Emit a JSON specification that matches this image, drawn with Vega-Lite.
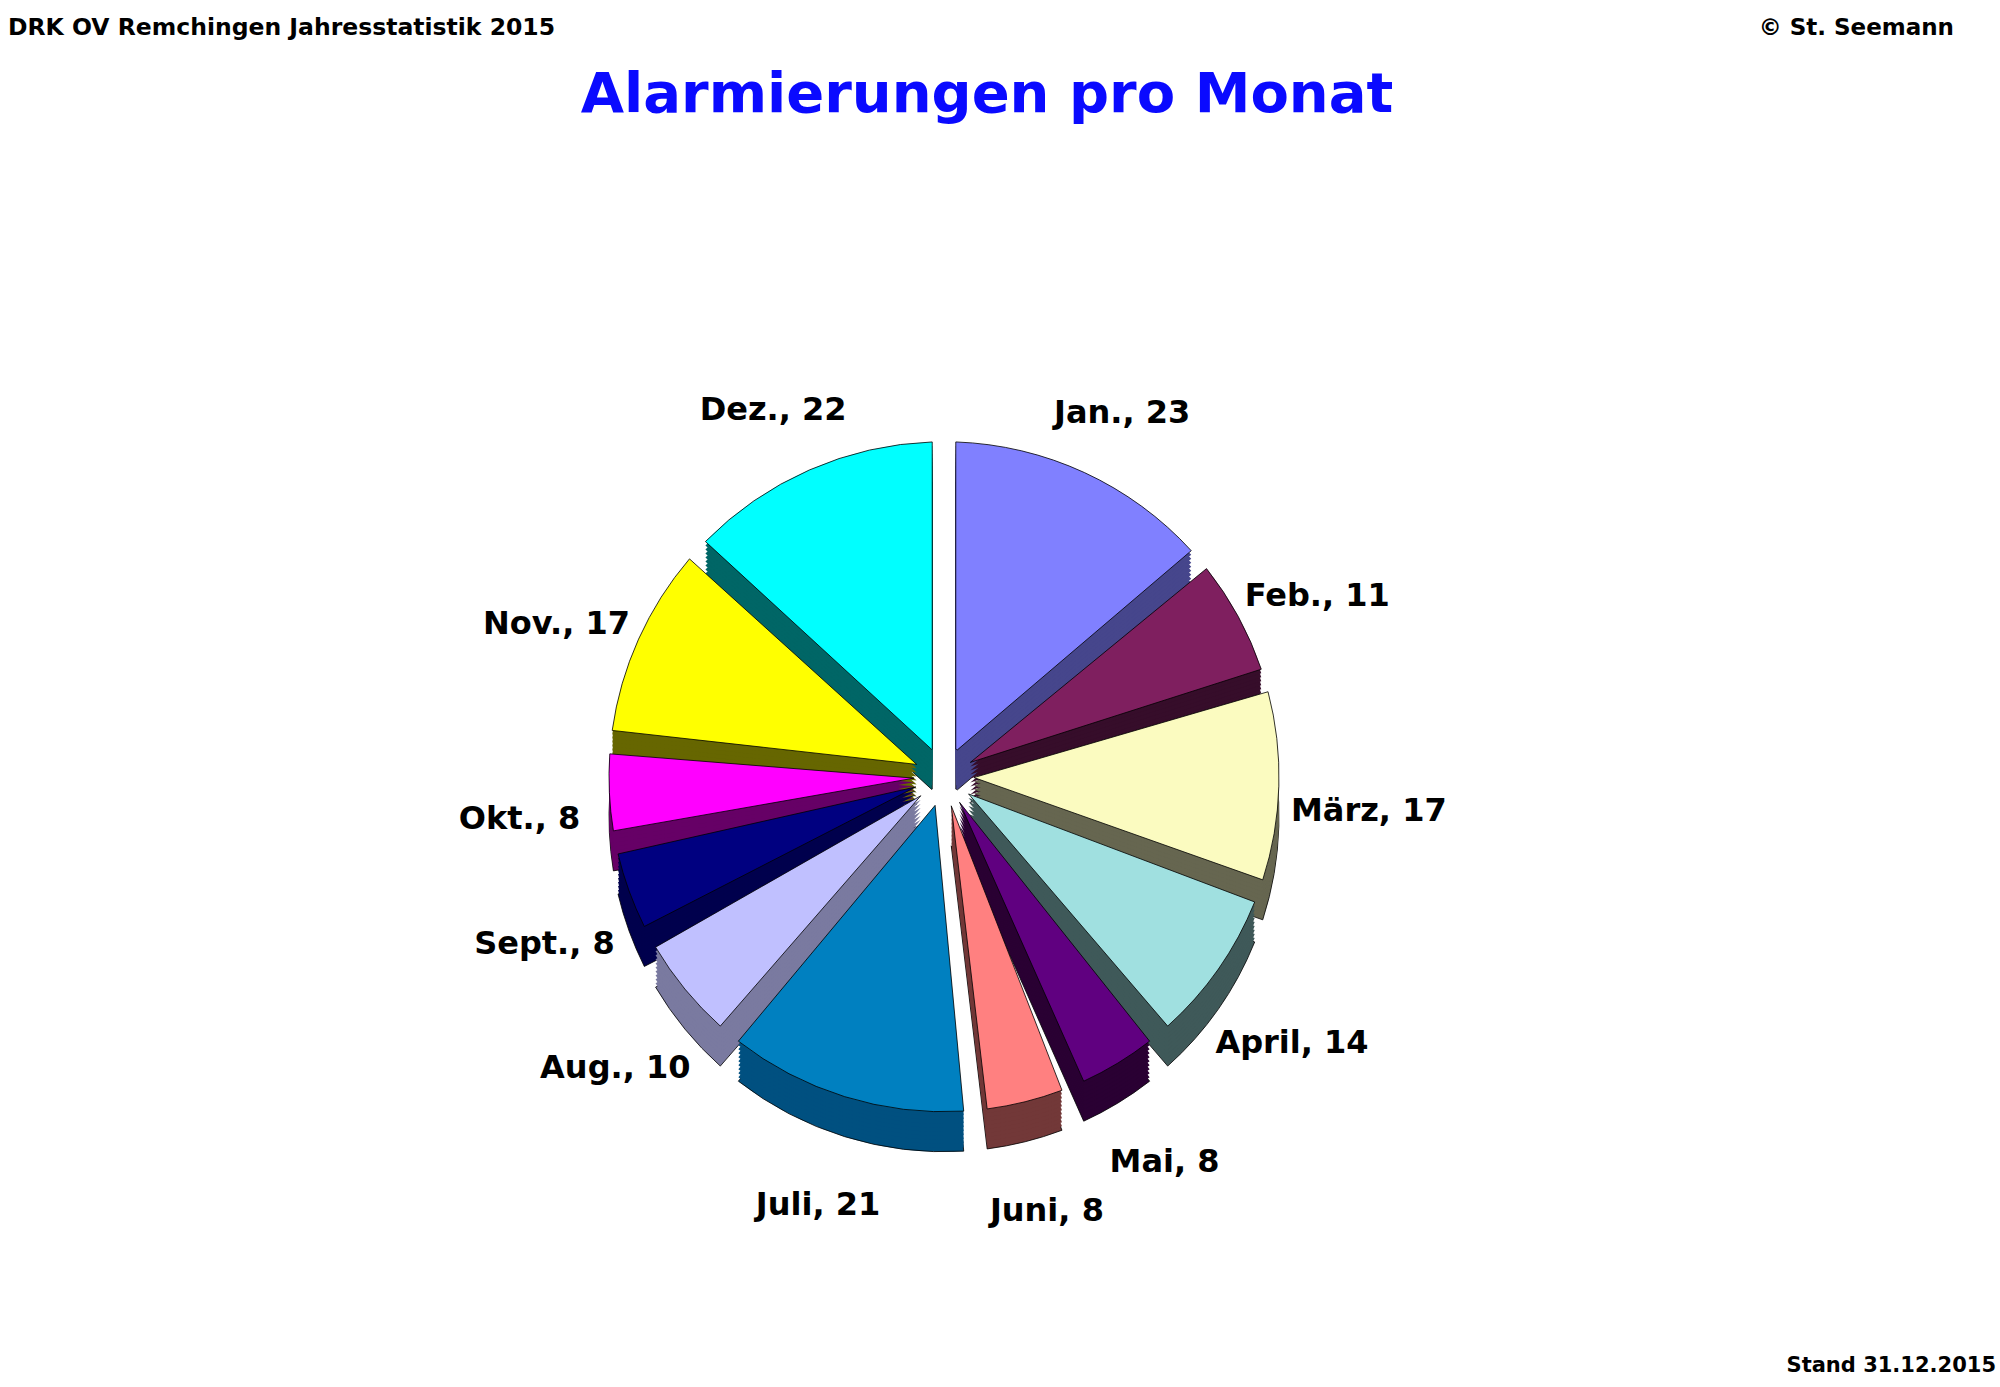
{
  "$schema": "https://vega.github.io/schema/vega-lite/v6.json",
  "width": 2000,
  "height": 1387,
  "autosize": {"type": "fit", "contains": "padding"},
  "padding": 0,
  "background": "white",
  "config": {
    "view": {"stroke": null},
    "text": {"font": "DejaVu Sans", "fontWeight": "bold", "color": "black"},
    "arc": {"radius": 335, "innerRadius": 30, "padAngle": 0.07, "x": {"expr": "width * 0.472"}, "y": {"expr": "height * 0.56"}}
  },
  "datasets": {
    "monate": [
      {"monat": "Jan.", "anzahl": 23, "nr": 1, "beschriftung": "Jan., 23"},
      {"monat": "Feb.", "anzahl": 11, "nr": 2, "beschriftung": "Feb., 11"},
      {"monat": "März", "anzahl": 17, "nr": 3, "beschriftung": "März, 17"},
      {"monat": "April", "anzahl": 14, "nr": 4, "beschriftung": "April, 14"},
      {"monat": "Mai", "anzahl": 8, "nr": 5, "beschriftung": "Mai, 8"},
      {"monat": "Juni", "anzahl": 8, "nr": 6, "beschriftung": "Juni, 8"},
      {"monat": "Juli", "anzahl": 21, "nr": 7, "beschriftung": "Juli, 21"},
      {"monat": "Aug.", "anzahl": 10, "nr": 8, "beschriftung": "Aug., 10"},
      {"monat": "Sept.", "anzahl": 8, "nr": 9, "beschriftung": "Sept., 8"},
      {"monat": "Okt.", "anzahl": 8, "nr": 10, "beschriftung": "Okt., 8"},
      {"monat": "Nov.", "anzahl": 17, "nr": 11, "beschriftung": "Nov., 17"},
      {"monat": "Dez.", "anzahl": 22, "nr": 12, "beschriftung": "Dez., 22"}
    ]
  },
  "data": {"name": "monate"},
  "layer": [
    {
      "mark": {"type": "arc", "yOffset": 40, "stroke": "black", "strokeWidth": 0.8},
      "encoding": {
        "theta": {"field": "anzahl", "type": "quantitative", "stack": true},
        "order": {"field": "nr", "type": "quantitative"},
        "color": {"field": "monat", "type": "nominal", "legend": null,
          "scale": {"domain": ["Jan.", "Feb.", "März", "April", "Mai", "Juni", "Juli", "Aug.", "Sept.", "Okt.", "Nov.", "Dez."],
            "range": ["#46468C", "#360D2A", "#666650", "#3F5959", "#2A0033", "#723838", "#005080", "#7A7AA0", "#00004D", "#660066", "#666600", "#006666"]}}
      }
    },
    {
      "mark": {"type": "arc", "yOffset": 36},
      "encoding": {
        "theta": {"field": "anzahl", "type": "quantitative", "stack": true},
        "order": {"field": "nr", "type": "quantitative"},
        "color": {"field": "monat", "type": "nominal", "legend": null,
          "scale": {"domain": ["Jan.", "Feb.", "März", "April", "Mai", "Juni", "Juli", "Aug.", "Sept.", "Okt.", "Nov.", "Dez."],
            "range": ["#46468C", "#360D2A", "#666650", "#3F5959", "#2A0033", "#723838", "#005080", "#7A7AA0", "#00004D", "#660066", "#666600", "#006666"]}}
      }
    },
    {
      "mark": {"type": "arc", "yOffset": 32},
      "encoding": {
        "theta": {"field": "anzahl", "type": "quantitative", "stack": true},
        "order": {"field": "nr", "type": "quantitative"},
        "color": {"field": "monat", "type": "nominal", "legend": null,
          "scale": {"domain": ["Jan.", "Feb.", "März", "April", "Mai", "Juni", "Juli", "Aug.", "Sept.", "Okt.", "Nov.", "Dez."],
            "range": ["#46468C", "#360D2A", "#666650", "#3F5959", "#2A0033", "#723838", "#005080", "#7A7AA0", "#00004D", "#660066", "#666600", "#006666"]}}
      }
    },
    {
      "mark": {"type": "arc", "yOffset": 28},
      "encoding": {
        "theta": {"field": "anzahl", "type": "quantitative", "stack": true},
        "order": {"field": "nr", "type": "quantitative"},
        "color": {"field": "monat", "type": "nominal", "legend": null,
          "scale": {"domain": ["Jan.", "Feb.", "März", "April", "Mai", "Juni", "Juli", "Aug.", "Sept.", "Okt.", "Nov.", "Dez."],
            "range": ["#46468C", "#360D2A", "#666650", "#3F5959", "#2A0033", "#723838", "#005080", "#7A7AA0", "#00004D", "#660066", "#666600", "#006666"]}}
      }
    },
    {
      "mark": {"type": "arc", "yOffset": 24},
      "encoding": {
        "theta": {"field": "anzahl", "type": "quantitative", "stack": true},
        "order": {"field": "nr", "type": "quantitative"},
        "color": {"field": "monat", "type": "nominal", "legend": null,
          "scale": {"domain": ["Jan.", "Feb.", "März", "April", "Mai", "Juni", "Juli", "Aug.", "Sept.", "Okt.", "Nov.", "Dez."],
            "range": ["#46468C", "#360D2A", "#666650", "#3F5959", "#2A0033", "#723838", "#005080", "#7A7AA0", "#00004D", "#660066", "#666600", "#006666"]}}
      }
    },
    {
      "mark": {"type": "arc", "yOffset": 20},
      "encoding": {
        "theta": {"field": "anzahl", "type": "quantitative", "stack": true},
        "order": {"field": "nr", "type": "quantitative"},
        "color": {"field": "monat", "type": "nominal", "legend": null,
          "scale": {"domain": ["Jan.", "Feb.", "März", "April", "Mai", "Juni", "Juli", "Aug.", "Sept.", "Okt.", "Nov.", "Dez."],
            "range": ["#46468C", "#360D2A", "#666650", "#3F5959", "#2A0033", "#723838", "#005080", "#7A7AA0", "#00004D", "#660066", "#666600", "#006666"]}}
      }
    },
    {
      "mark": {"type": "arc", "yOffset": 16},
      "encoding": {
        "theta": {"field": "anzahl", "type": "quantitative", "stack": true},
        "order": {"field": "nr", "type": "quantitative"},
        "color": {"field": "monat", "type": "nominal", "legend": null,
          "scale": {"domain": ["Jan.", "Feb.", "März", "April", "Mai", "Juni", "Juli", "Aug.", "Sept.", "Okt.", "Nov.", "Dez."],
            "range": ["#46468C", "#360D2A", "#666650", "#3F5959", "#2A0033", "#723838", "#005080", "#7A7AA0", "#00004D", "#660066", "#666600", "#006666"]}}
      }
    },
    {
      "mark": {"type": "arc", "yOffset": 12},
      "encoding": {
        "theta": {"field": "anzahl", "type": "quantitative", "stack": true},
        "order": {"field": "nr", "type": "quantitative"},
        "color": {"field": "monat", "type": "nominal", "legend": null,
          "scale": {"domain": ["Jan.", "Feb.", "März", "April", "Mai", "Juni", "Juli", "Aug.", "Sept.", "Okt.", "Nov.", "Dez."],
            "range": ["#46468C", "#360D2A", "#666650", "#3F5959", "#2A0033", "#723838", "#005080", "#7A7AA0", "#00004D", "#660066", "#666600", "#006666"]}}
      }
    },
    {
      "mark": {"type": "arc", "yOffset": 8},
      "encoding": {
        "theta": {"field": "anzahl", "type": "quantitative", "stack": true},
        "order": {"field": "nr", "type": "quantitative"},
        "color": {"field": "monat", "type": "nominal", "legend": null,
          "scale": {"domain": ["Jan.", "Feb.", "März", "April", "Mai", "Juni", "Juli", "Aug.", "Sept.", "Okt.", "Nov.", "Dez."],
            "range": ["#46468C", "#360D2A", "#666650", "#3F5959", "#2A0033", "#723838", "#005080", "#7A7AA0", "#00004D", "#660066", "#666600", "#006666"]}}
      }
    },
    {
      "mark": {"type": "arc", "yOffset": 4},
      "encoding": {
        "theta": {"field": "anzahl", "type": "quantitative", "stack": true},
        "order": {"field": "nr", "type": "quantitative"},
        "color": {"field": "monat", "type": "nominal", "legend": null,
          "scale": {"domain": ["Jan.", "Feb.", "März", "April", "Mai", "Juni", "Juli", "Aug.", "Sept.", "Okt.", "Nov.", "Dez."],
            "range": ["#46468C", "#360D2A", "#666650", "#3F5959", "#2A0033", "#723838", "#005080", "#7A7AA0", "#00004D", "#660066", "#666600", "#006666"]}}
      }
    },
    {
      "mark": {"type": "arc", "stroke": "black", "strokeWidth": 0.8},
      "encoding": {
        "theta": {"field": "anzahl", "type": "quantitative", "stack": true},
        "order": {"field": "nr", "type": "quantitative"},
        "color": {"field": "monat", "type": "nominal", "legend": null,
          "scale": {"domain": ["Jan.", "Feb.", "März", "April", "Mai", "Juni", "Juli", "Aug.", "Sept.", "Okt.", "Nov.", "Dez."],
            "range": ["#8080FF", "#7F1F5F", "#FBFBC0", "#A0E0E0", "#600080", "#FF8080", "#0080C0", "#C0C0FF", "#000080", "#FF00FF", "#FFFF00", "#00FFFF"]}}
      }
    },
    {
      "mark": {"type": "text", "radius": 425, "x": {"expr": "width * 0.472"}, "y": {"expr": "height * 0.56"}, "yOffset": 22, "fontSize": 32, "align": "center", "baseline": "middle"},
      "encoding": {
        "theta": {"field": "anzahl", "type": "quantitative", "stack": true},
        "order": {"field": "nr", "type": "quantitative"},
        "text": {"field": "beschriftung", "type": "nominal"}
      }
    },
    {
      "data": {"values": [{"t": "Alarmierungen pro Monat"}]},
      "mark": {"type": "text", "x": 987, "y": 112, "align": "center", "baseline": "alphabetic", "fontSize": 56, "color": "#0A0AFF"},
      "encoding": {"text": {"field": "t", "type": "nominal"}}
    },
    {
      "data": {"values": [{"t": "DRK OV Remchingen Jahresstatistik 2015"}]},
      "mark": {"type": "text", "x": 8, "y": 35, "align": "left", "baseline": "alphabetic", "fontSize": 23.5},
      "encoding": {"text": {"field": "t", "type": "nominal"}}
    },
    {
      "data": {"values": [{"t": "© St. Seemann"}]},
      "mark": {"type": "text", "x": 1954, "y": 35, "align": "right", "baseline": "alphabetic", "fontSize": 23},
      "encoding": {"text": {"field": "t", "type": "nominal"}}
    },
    {
      "data": {"values": [{"t": "Stand 31.12.2015"}]},
      "mark": {"type": "text", "x": 1996, "y": 1372, "align": "right", "baseline": "alphabetic", "fontSize": 21},
      "encoding": {"text": {"field": "t", "type": "nominal"}}
    }
  ],
  "resolve": {"scale": {"color": "independent"}}
}
